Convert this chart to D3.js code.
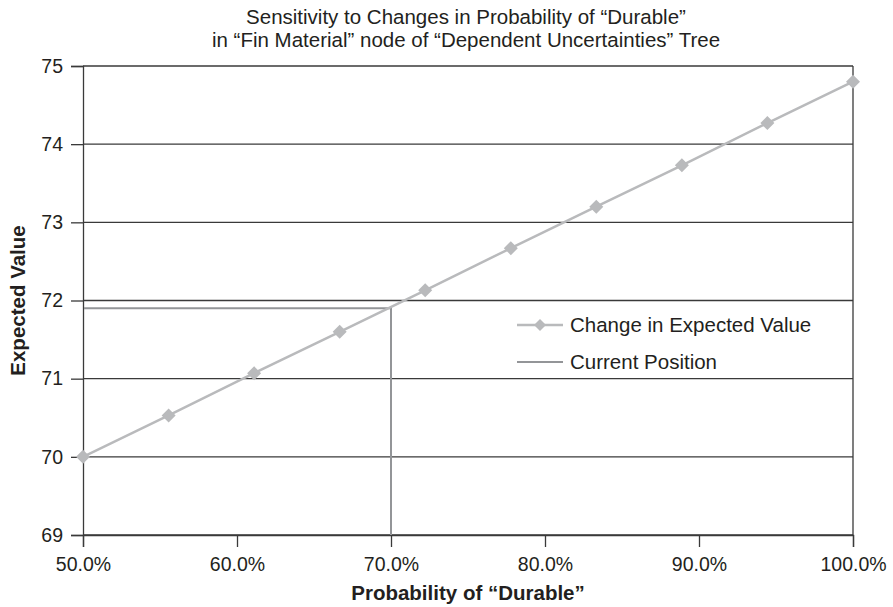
<!DOCTYPE html>
<html>
<head>
<meta charset="utf-8">
<script src="https://cdn.jsdelivr.net/npm/d3@7"></script>
<style>
  html, body { margin: 0; padding: 0; background: #fff; }
  svg { display: block; }
  text { font-family: "Liberation Sans", Arial, Helvetica, sans-serif; fill: #231f20; }
</style>
</head>
<body>
<svg id="chart" width="893" height="607"></svg>
<script>
// Probability of "Durable" (as fraction) and resulting expected value
const probabilities = [0.5, 0.5556, 0.6111, 0.6667, 0.7222, 0.7778, 0.8333, 0.8889, 0.9444, 1.0];
const expectedValues = [70.0, 70.53, 71.07, 71.6, 72.13, 72.67, 73.2, 73.73, 74.27, 74.8];
const currentPosition = { probability: 0.7, value: 71.9 };
const xTicks = [0.5, 0.6, 0.7, 0.8, 0.9, 1.0];
const yTicks = [69, 70, 71, 72, 73, 74, 75];
const titleLines = [
  "Sensitivity to Changes in Probability of \u201CDurable\u201D",
  "in \u201CFin Material\u201D node of \u201CDependent Uncertainties\u201D Tree"
];
const xTitle = "Probability of \u201CDurable\u201D";
const yTitle = "Expected Value";
const legendLabels = ["Change in Expected Value", "Current Position"];

const svg = d3.select("#chart");
const plotLeft = 83, plotRight = 853, plotTop = 66, plotBottom = 535;

const x = d3.scaleLinear().domain([0.5, 1.0]).range([plotLeft, plotRight]);
const y = d3.scaleLinear().domain([69, 75]).range([plotBottom, plotTop]);

const gridColor = "#3a3a3a";
const seriesColor = "#b9babc";
const currentColor = "#939598";
const fontStack = "'Liberation Sans', Arial, sans-serif";
const labelSize = "20.5px";
const tickSize = "19.5px";

// Title
svg.selectAll("text.title").data(titleLines).enter().append("text")
  .attr("class", "title")
  .attr("x", 466).attr("y", (d, i) => 24 + i * 23)
  .attr("text-anchor", "middle")
  .style("font-size", labelSize)
  .text(d => d);

// Horizontal gridlines
svg.append("g").selectAll("line").data(yTicks).enter().append("line")
  .attr("x1", plotLeft).attr("x2", plotRight)
  .attr("y1", d => y(d)).attr("y2", d => y(d))
  .attr("stroke", gridColor).attr("stroke-width", 1.3);

// Right border of plot area
svg.append("line")
  .attr("x1", plotRight).attr("x2", plotRight).attr("y1", plotTop).attr("y2", plotBottom)
  .attr("stroke", gridColor).attr("stroke-width", 1.3);

// Y axis
const yAxis = d3.axisLeft(y).tickValues(yTicks).tickSize(12).tickPadding(8).tickFormat(d3.format("d"));
const gy = svg.append("g").attr("transform", `translate(${plotLeft},0)`).call(yAxis);
gy.select(".domain").attr("stroke", gridColor).attr("stroke-width", 1.3);
gy.selectAll(".tick line").attr("stroke", gridColor).attr("stroke-width", 1.3);
gy.selectAll(".tick text").style("font-size", tickSize).style("font-family", fontStack).attr("fill", "#231f20");

// X axis
const xAxis = d3.axisBottom(x).tickValues(xTicks).tickSize(12).tickPadding(10).tickFormat(d3.format(".1%"));
const gx = svg.append("g").attr("transform", `translate(0,${plotBottom})`).call(xAxis);
gx.select(".domain").attr("stroke", gridColor).attr("stroke-width", 1.3);
gx.selectAll(".tick line").attr("stroke", gridColor).attr("stroke-width", 1.3);
gx.selectAll(".tick text").style("font-size", tickSize).style("font-family", fontStack).attr("fill", "#231f20");

// Axis titles
svg.append("text")
  .attr("x", (plotLeft + plotRight) / 2).attr("y", 600)
  .attr("text-anchor", "middle")
  .style("font-size", labelSize).style("font-weight", "bold")
  .text(xTitle);
svg.append("text")
  .attr("transform", `translate(25,${(plotTop + plotBottom) / 2}) rotate(-90)`)
  .attr("text-anchor", "middle")
  .style("font-size", labelSize).style("font-weight", "bold")
  .text(yTitle);

// Current position marker lines
svg.append("path")
  .attr("d", `M${x(0.5) + 1},${y(currentPosition.value)}H${x(currentPosition.probability)}V${plotBottom}`)
  .attr("fill", "none").attr("stroke", currentColor).attr("stroke-width", 2);

// Series line
const pts = probabilities.map((p, i) => [p, expectedValues[i]]);
svg.append("path")
  .datum(pts)
  .attr("d", d3.line().x(d => x(d[0])).y(d => y(d[1])))
  .attr("fill", "none").attr("stroke", seriesColor).attr("stroke-width", 2.5);

// Diamond markers
const diamond = (cx, cy, r) => `M${cx},${cy - r}L${cx + r},${cy}L${cx},${cy + r}L${cx - r},${cy}Z`;
svg.append("g").selectAll("path").data(pts).enter().append("path")
  .attr("d", d => diamond(x(d[0]), y(d[1]), 7))
  .attr("fill", seriesColor);

// Legend
const lg = svg.append("g").attr("transform", "translate(517,325)");
lg.append("line").attr("x1", 0).attr("x2", 46).attr("y1", 0).attr("y2", 0)
  .attr("stroke", seriesColor).attr("stroke-width", 2.5);
lg.append("path").attr("d", diamond(23, 0, 6)).attr("fill", seriesColor);
lg.append("line").attr("x1", 0).attr("x2", 46).attr("y1", 37).attr("y2", 37)
  .attr("stroke", currentColor).attr("stroke-width", 2);
lg.selectAll("text").data(legendLabels).enter().append("text")
  .attr("x", 53).attr("y", (d, i) => i * 37 + 7)
  .style("font-size", labelSize)
  .text(d => d);
</script>
</body>
</html>
